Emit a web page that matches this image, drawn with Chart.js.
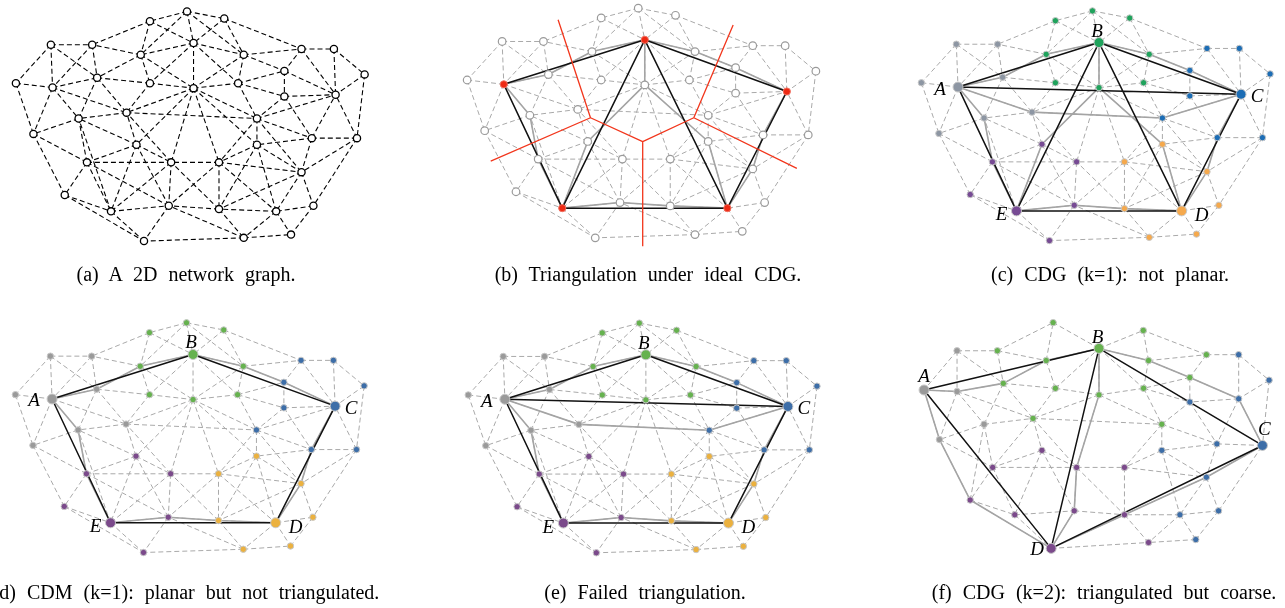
<!DOCTYPE html>
<html><head><meta charset="utf-8">
<script src="https://cdn.jsdelivr.net/npm/chart.js@4.4.0/dist/chart.umd.min.js"></script>
<style>
html,body{margin:0;padding:0;background:#fff;}
#wrap{position:relative;width:1285px;height:608px;overflow:hidden;}
canvas{position:absolute;left:0;top:0;}
.cap{position:absolute;font-family:'Liberation Serif','DejaVu Serif',serif;font-size:20px;white-space:nowrap;color:#000;word-spacing:6px;line-height:1;transform:translate(-50%,-50%);}
.lbl{position:absolute;font-family:'Liberation Serif',serif;font-style:italic;font-size:19px;color:#000;transform:translate(-50%,-50%);line-height:1;}
</style></head><body>
<div id="wrap"><canvas id="c" width="1285" height="608"></canvas></div>
<script>
// ---------- DATA: main network (panels a–e) ----------
const nodeNames = ['T','n1','n2','B','n4','n5','n6','n7','n8',
  'n9','n10','n11','A','n12','n13','n14','n15',
  'n16','n17','n18','n19','n20','C','n21','n22','n23',
  'n24','n25','n26','n27','D','n28','n29','n30',
  'n31','n32','n33','n34','E','n35','n36'];
const nodeX = [181.7,144.3,219.3,188.3,135,239,144.3,188.3,233.3,
  44.3,86,9,46,91,120.7,72.3,26.7,
  297.3,330,280,361,280,331.7,252.3,307.7,353.3,
  252.3,214,297.3,309.3,271.7,214,239,286.7,
  130.7,80.7,165.7,58.3,105,163.3,138.3];
const nodeY = [5,15,12.3,37.3,49.3,49.3,78.3,83.3,78.3,
  39,39,78.3,82.7,72.7,108.3,114.3,130,
  43.3,43.3,65.7,69.3,91.7,90,114.3,134.3,134.3,
  141,159,169,203.3,209,206.7,236,232.7,
  141,159,159,192.3,209,203.3,239.3];
const nodeGroup = ['g','g','g','g','g','g','g','g','g',
  'k','k','k','k','k','k','k','k',
  'b','b','b','b','b','b','b','b','b',
  'o','o','o','o','o','o','o','o',
  'p','p','p','p','p','p','p'];
const hubNames = ['A','B','C','D','E'];

const graphEdges = ['T n1','T n2','T B','T n4','T n5','n1 n4','n1 B','n1 n10','n2 B','n2 n5','n2 n16',
 'B n4','B n5','B n7','B n6','B n8','n4 n6','n4 n10','n4 n7','n4 n12','n5 n7','n5 n8','n5 n16','n5 n18',
 'n6 n7','n6 n12','n6 n13','n7 n8','n7 n13','n7 n21','n7 n31','n7 n24','n7 n33','n7 n25',
 'n8 n21','n8 n20','n8 n18','n16 n17','n16 n18','n16 C','n17 C','n17 n19','n19 C','n19 n23',
 'n18 n20','n18 C','n20 C','n20 n21','n20 n22','n21 C','n21 n22','n21 n24','n21 n25','n21 n26',
 'n22 C','n22 n23','n22 n26','n22 n24','n23 C','n23 n26','n23 n27',
 'n24 n25','n24 n26','n24 D','n24 n28','n25 n33','n25 n28','n25 D','n25 n35','n25 n26',
 'n26 D','n26 n27','n26 n28','n27 D','n27 n30','D n28','D n29','D n30','n28 n35','n28 n29','n28 n33',
 'n29 n36','n29 n30','n29 n35','n31 n13','n31 n14','n31 n32','n31 n33','n31 E','n31 n35',
 'n32 n14','n32 n15','n32 n33','n32 n34','n32 E','n32 n35','n33 n35','n33 E','n33 n13',
 'n34 n15','n34 E','n34 n36','E n35','E n36','E n14','n35 n36',
 'n9 n10','n9 n11','n9 A','n9 n12','n10 n12','n10 A','n11 A','n11 n15','A n15','A n13','A n14','A n12',
 'n12 n13','n12 n14','n13 n14','n14 n15','n13 n21'];

const pathAB = ['A n12','n12 n4','n4 B'];
const pathBC = ['B n5','n5 n18','n18 C'];
const pathCD = ['C n22','n22 n26','n26 D'];
const pathDE = ['D n28','n28 n35','n35 E'];
const pathEA = ['E n32','n32 n14','n14 A'];
const pathBE = ['B n7','n7 n31','n31 E'];
const pathBD = ['n7 n24','n24 D'];
const pathAC = ['A n13','n13 n21','n21 C'];

const solidB = [...pathAB,...pathBC,...pathCD,...pathDE,...pathEA,...pathBE,...pathBD];
const blackB = ['A B','B C','C D','D E','E A','B E','B D'];
const solidC = [...pathAB,...pathBC,...pathAC,...pathEA,...pathBE,...pathBD,...pathCD,...pathDE];
const blackC = ['A B','B C','A C','A E','B E','B D','C D','E D'];
const solidD = [...pathAB,...pathBC,...pathCD,...pathDE,...pathEA];
const blackD = ['A B','B C','C D','D E','E A'];
const solidE = [...pathAB,...pathBC,...pathCD,...pathDE,...pathEA,...pathAC];
const blackE = ['A B','B C','A C','C D','D E','E A'];

// Voronoi boundaries in panel (b)
const voroNames = ['V1','V2','V3','E1','E2','E3','E4','E5'];
const voroX = [133.5,186.2,237.8,100.8,32.8,186.2,277.5,341.8];
const voroY = [116.8,141.1,116.8,16.8,161.1,247.8,22.1,168.5];
const voroEdges = ['E1 V1','V1 E2','V1 V2','V2 E3','V2 V3','V3 E4','V3 E5'];

// ---------- DATA: panel (f) network ----------
const fNames = ['A','f0','f1','f2','f3','f4','f5','B','f6','f7','f8','f9','f10','f11','f12','f13','f14','f34','f35',
  'f15','f16','f17','f18','C','f19','f20','f21','f22','f23','f24',
  'f25','f26','f27','f28','f29','f30','f31','f32','D','f33'];
const fX = [16.7,50,50,77.3,32.3,90.7,140,193.3,96.7,149.3,193.3,126.7,243.3,301.7,285,238.3,256.7,147,238,
  334.3,365,334.3,285,358.3,312.3,256.7,301.7,314,275,291,
  135.7,86,170.7,219,63.3,108.3,168.3,219,145,243.3];
const fY = [71.7,31.7,73.3,106.7,122.3,31.7,41.7,29.3,65,70,76.7,100.7,41.7,35.7,59,70,106.7,3,11,
  35.7,61.7,80.7,84,128.3,126.7,133.3,160.7,195,199,224.3,
  133.3,150.7,150.7,150.7,184,199,195,199,233.3,227.3];
const fGroup = ['k','k','k','k','k','g','g','g','g','g','g','g','g','g','g','g','g','g','g',
  'b','b','b','b','b','b','b','b','b','b','b',
  'p','p','p','p','p','p','p','p','p','p'];
const fEdges = ['f0 f4','f0 A','f0 f1','f0 f6','f4 f5','f4 f6','f4 f34','A f1','A f3','f1 f6','f1 f2','f1 f3','f1 f9',
 'f2 f6','f2 f9','f2 f3','f2 f26','f2 f29','f3 f29','f3 f26','f5 f6','f5 f7','f5 B','f5 f34','f6 f7','f6 f9',
 'f7 f8','f7 f9','f7 B','f8 B','f8 f9','f8 f13','f8 f14','f8 f27','f9 f25','f9 f26','f9 f27','f9 f14',
 'f10 f13','f10 f11','f10 f12','f10 f35','B f35','B f10','B f34','B f13','f11 f15','f11 f12','f11 f35',
 'f12 f18','f12 f13','f12 f17','f13 f14','f13 f18','f14 f18','f14 f20','f14 f28','f14 f19',
 'f15 f16','f15 f17','f16 f17','f16 C','f17 f18','f17 f19','f17 C','f18 f19','f19 C','f19 f20','f19 f21',
 'f20 f28','f20 f21','f20 f23','f21 C','f21 f22','f21 f23','f21 f32','f22 C','f22 f23','f22 f24',
 'f23 f24','f23 f32','f23 f33','f24 f33','f25 f26','f25 f27','f25 f30','f25 f31','f26 f29','f26 f30','f26 f27',
 'f27 f28','f27 f31','f27 f32','f28 f32','f28 f21','f29 f30','f29 D','f30 D','f30 f31','f31 D','f31 f32',
 'f32 D','f32 f33','D f33'];
const fSolid = ['A f1','f1 f6','f6 f5','f5 B','B f10','f10 f12','f12 f17','f17 C','A f3','f3 f29','f29 D',
 'B f8','f8 f27','f27 f31','f31 D','D f32','f32 f21','f21 C'];
const fBlack = ['A B','B C','B D','A D','D C'];

// ---------- captions ----------
const captions = ['(a) A 2D network graph.','(b) Triangulation under ideal CDG.','(c) CDG (k=1): not planar.',
  '(d) CDM (k=1): planar but not triangulated.','(e) Failed triangulation.','(f) CDG (k=2): triangulated but coarse.'];

// ---------- layout / style (not data) ----------
const OFF = {a:[1,0.5], b:[456.5,-2.8], c:[915,0], d:[0.5,318.2], e:[457.6,318.5], f:[910,320]};
const capPos = [[186,274],[648,274],[1110,274],[186,592],[645,592],[1104,592]];
const palC = {g:'#1fa35c',k:'#8d96a3',b:'#1c6db5',o:'#f5a94d',p:'#774b94'};
const palD = {g:'#66b24f',k:'#9a9a9a',b:'#3d6ea8',o:'#ebb13f',p:'#7b4a8b'};
const DASH_GRAY = '#a9a9a9', SOLID_GRAY = '#a4a4a4', BLACK = '#111111';
const lblOff = {A:[-18,0.5],B:[-2,-13],C:[16,1],D:[20,3],E:[-15,2.5]};
const lblOffF = {A:[0,-15],B:[-1.5,-12.5],C:[2,-17],D:[-14,0]};

function makeIndex(names){const m={};names.forEach((n,i)=>m[n]=i);return m;}
const IDX = makeIndex(nodeNames), FIDX = makeIndex(fNames), VIDX = makeIndex(voroNames);

function segs(edges, X, Y, idx, off){
  const out=[];
  edges.forEach(e=>{const [a,b]=e.split(' ');
    out.push({x:X[idx[a]]+off[0],y:Y[idx[a]]+off[1]},{x:X[idx[b]]+off[0],y:Y[idx[b]]+off[1]},{x:null,y:null});});
  return out;
}
function lineDS(data,color,width,dash,order){
  return {type:'scatter',data,showLine:true,spanGaps:false,borderColor:color,borderWidth:width,
    borderDash:dash||[],pointRadius:0,pointHoverRadius:0,fill:false,order,clip:false,borderCapStyle:'butt'};
}
function nodeDS(X,Y,names,groups,off,style){
  const data=[],r=[],bg=[],bc=[],bw=[];
  X.forEach((x,i)=>{data.push({x:x+off[0],y:Y[i]+off[1]});const s=style(names[i],groups[i]);
    r.push(s.r);bg.push(s.bg);bc.push(s.bc);bw.push(s.bw);});
  return {type:'scatter',data,showLine:false,pointRadius:r,pointHoverRadius:r,pointBackgroundColor:bg,
    pointBorderColor:bc,pointBorderWidth:bw,order:0,clip:false};
}

const datasets=[];
// (a)
datasets.push(lineDS(segs(graphEdges,nodeX,nodeY,IDX,OFF.a),'#000',1.1,[5,3],5));
datasets.push(nodeDS(nodeX,nodeY,nodeNames,nodeGroup,OFF.a,()=>({r:3.6,bg:'#fff',bc:'#000',bw:1.3})));
// (b)
datasets.push(lineDS(segs(graphEdges,nodeX,nodeY,IDX,OFF.b),DASH_GRAY,1,[5,3],5));
datasets.push(lineDS(segs(solidB,nodeX,nodeY,IDX,OFF.b),SOLID_GRAY,1.6,[],4));
datasets.push(lineDS(segs(blackB,nodeX,nodeY,IDX,OFF.b),BLACK,1.5,[],3));
datasets.push(lineDS(segs(voroEdges,voroX,voroY,VIDX,OFF.b),'#f2361c',1.3,[],2));
datasets.push(nodeDS(nodeX,nodeY,nodeNames,nodeGroup,OFF.b,(n)=>hubNames.includes(n)?
  {r:3.6,bg:'#ee2a14',bc:'#f07060',bw:1}:{r:3.8,bg:'#fff',bc:'#9a9a9a',bw:1.2}));
// (c)(d)(e)
[['c',solidC,blackC,palC],['d',solidD,blackD,palD],['e',solidE,blackE,palD]].forEach(([p,sol,blk,pal])=>{
  datasets.push(lineDS(segs(graphEdges,nodeX,nodeY,IDX,OFF[p]),DASH_GRAY,1,[5,3],5));
  datasets.push(lineDS(segs(sol,nodeX,nodeY,IDX,OFF[p]),SOLID_GRAY,1.6,[],4));
  datasets.push(lineDS(segs(blk,nodeX,nodeY,IDX,OFF[p]),BLACK,1.5,[],3));
  datasets.push(nodeDS(nodeX,nodeY,nodeNames,nodeGroup,OFF[p],(n,g)=>hubNames.includes(n)?
    {r:5,bg:pal[g],bc:'#c8c8c8',bw:1}:{r:3.2,bg:pal[g],bc:'#c8c8c8',bw:1}));
});
// (f)
datasets.push(lineDS(segs(fEdges,fX,fY,FIDX,OFF.f),DASH_GRAY,1,[5,3],5));
datasets.push(lineDS(segs(fSolid,fX,fY,FIDX,OFF.f),SOLID_GRAY,1.6,[],4));
datasets.push(lineDS(segs(fBlack,fX,fY,FIDX,OFF.f),BLACK,1.5,[],3));
datasets.push(nodeDS(fX,fY,fNames,fGroup,OFF.f,(n,g)=>hubNames.includes(n)?
  {r:5,bg:palD[g],bc:'#c8c8c8',bw:1}:{r:3.2,bg:palD[g],bc:'#c8c8c8',bw:1}));

// label specs: [text, x, y, dx, dy]
const labelSpecs=[];
['c','d','e'].forEach(p=>hubNames.forEach(h=>{const i=IDX[h];
  labelSpecs.push([h,nodeX[i]+OFF[p][0],nodeY[i]+OFF[p][1],lblOff[h][0],lblOff[h][1]]);}));
['A','B','C','D'].forEach(h=>{const i=FIDX[h];
  labelSpecs.push([h,fX[i]+OFF.f[0],fY[i]+OFF.f[1],lblOffF[h][0],lblOffF[h][1]]);});

const labelPlugin={id:'nodeLabels',afterDraw(chart){
  const wrap=document.getElementById('wrap');
  if(chart._lblDone) return; chart._lblDone=true;
  const xs=chart.scales.x, ys=chart.scales.y;
  labelSpecs.forEach(([t,x,y,dx,dy])=>{const d=document.createElement('div');d.className='lbl';d.textContent=t;
    d.style.left=(xs.getPixelForValue(x)+dx)+'px';d.style.top=(ys.getPixelForValue(y)+dy)+'px';wrap.appendChild(d);});
}};

new Chart(document.getElementById('c'),{
  type:'scatter',
  data:{datasets},
  options:{responsive:false,animation:false,events:[],
    layout:{padding:0},
    plugins:{legend:{display:false},tooltip:{enabled:false},title:{display:false}},
    scales:{x:{type:'linear',min:0,max:1285,display:false},y:{type:'linear',min:0,max:608,reverse:true,display:false}}},
  plugins:[labelPlugin]
});

captions.forEach((t,i)=>{const d=document.createElement('div');d.className='cap';d.textContent=t;
  d.style.left=capPos[i][0]+'px';d.style.top=capPos[i][1]+'px';document.getElementById('wrap').appendChild(d);});
</script>
</body></html>
